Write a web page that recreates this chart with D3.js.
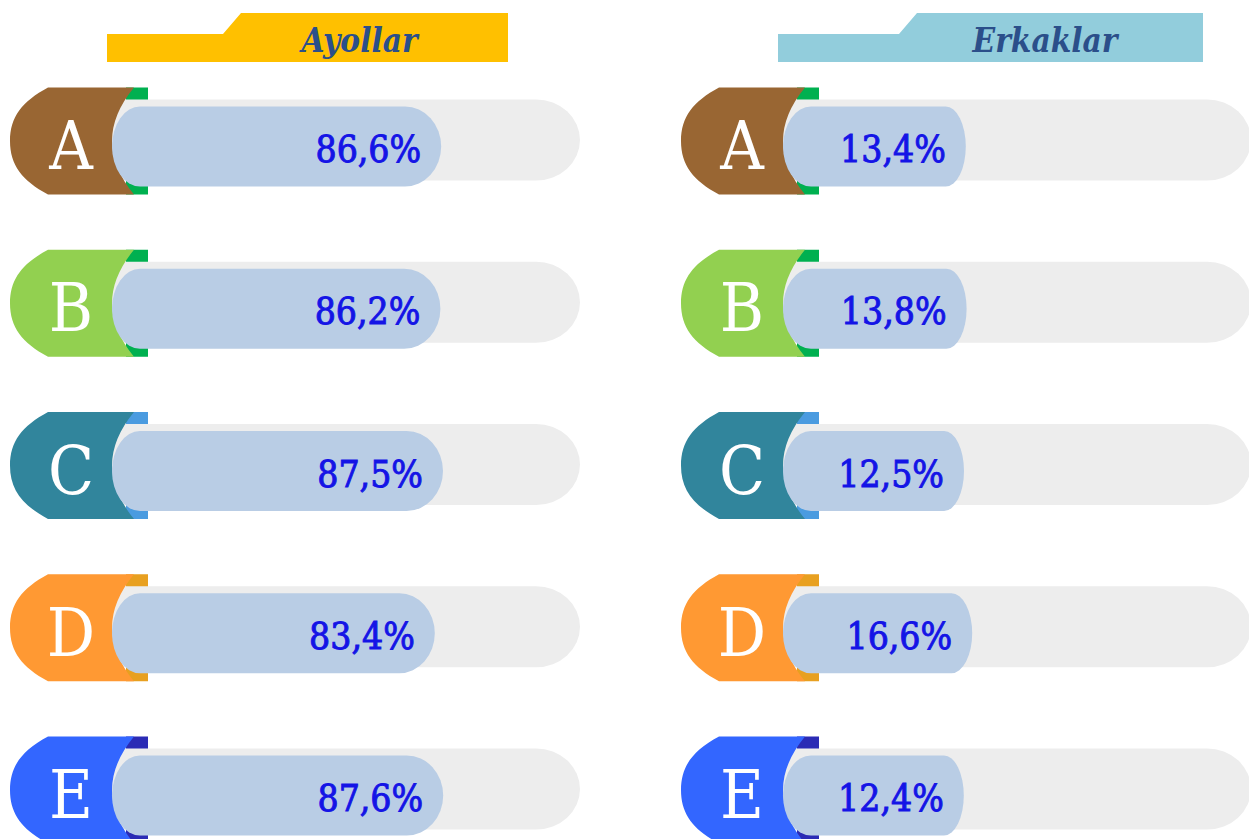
<!DOCTYPE html>
<html>
<head>
<meta charset="utf-8">
<script src="https://cdn.jsdelivr.net/npm/d3@7"></script>
<style>
  body { margin: 0; background: #fff; }
  svg { display: block; }
</style>
</head>
<body>
<div id="viz"></div>
<script>
const categories = ["A", "B", "C", "D", "E"];
const ayollar = [86.6, 86.2, 87.5, 83.4, 87.6];
const erkaklar = [13.4, 13.8, 12.5, 16.6, 12.4];
const panelTitles = ["Ayollar", "Erkaklar"];

const badgeColors = ["#996633", "#92D050", "#31859C", "#FF9933", "#3366FF"];
const accentColors = ["#00B050", "#00B050", "#4A9BE0", "#E8A020", "#2B2BB5"];
const bannerColors = ["#FFC000", "#92CDDC"];
const bannerEnds = [508, 532];

const W = 1249, H = 839;
const svg = d3.select("#viz").append("svg")
  .attr("width", W)
  .attr("height", H);

const fmt = d3.formatLocale({ decimal: ",", thousands: " ", grouping: [3], currency: ["", ""] }).format(".1f");

// row centres and bar length (bar keeps a minimum length so the label fits)
const y = d3.scalePoint().domain(categories).range([141, 790]);
const len = d3.scaleLinear().domain([0, 100]).range([156, 356]);
const panelX = d3.scalePoint().domain(panelTitles).range([0, 671]);

const badgeL = 10, badgeR = 148, badgeH = 107;
const trackStart = 100, trackEnd = 580, trackH = 81;
const barStart = 112, barH = 80;
const serif = "'DejaVu Serif Condensed', 'DejaVu Serif', serif";

function badgePath(cy) {
  const t = cy - badgeH / 2, b = cy + badgeH / 2;
  const xl = badgeL, xr = badgeR - 14;
  return `M${xl + 38},${t} L${xr},${t} Q${xr - 44},${cy} ${xr},${b} L${xl + 38},${b}
    C${xl + 12},${b - 14} ${xl},${cy + 24} ${xl},${cy}
    C${xl},${cy - 24} ${xl + 12},${t + 14} ${xl + 38},${t} Z`;
}

function pillPath(x0, x1, cy, h, rl, rr) {
  const t = cy - h / 2, b = cy + h / 2, ry = h / 2;
  return `M${x0 + rl},${t} L${x1 - rr},${t} A${rr},${ry} 0 0 1 ${x1 - rr},${b}
    L${x0 + rl},${b} A${rl},${ry} 0 0 1 ${x0 + rl},${t} Z`;
}

function drawPanel(title, values, pi) {
  const g = svg.append("g").attr("transform", `translate(${panelX(title)},0)`);

  // title banner
  const xb = 107, xs = 223 + pi * 5, xe = bannerEnds[pi];
  g.append("path")
    .attr("d", `M${xb},34 L${xs},34 L${xs + 18},13 L${xe},13 L${xe},62 L${xb},62 Z`)
    .attr("fill", bannerColors[pi]);
  g.append("text")
    .attr("x", (xs + xe) / 2 - 6)
    .attr("y", 52)
    .attr("text-anchor", "middle")
    .style("font-family", serif)
    .style("font-style", "italic")
    .style("font-weight", "bold")
    .style("font-size", "33px")
    .style("fill", "#2B4F8A")
    .text(title);

  const rows = g.selectAll("g.row")
    .data(categories.map((c, i) => ({ c, i, v: values[i] })))
    .enter()
    .append("g")
    .attr("class", "row");

  rows.append("rect")
    .attr("x", badgeR - 22)
    .attr("y", d => y(d.c) - badgeH / 2)
    .attr("width", 22)
    .attr("height", badgeH)
    .attr("fill", d => accentColors[d.i]);

  rows.append("path")
    .attr("d", d => pillPath(trackStart, trackEnd, y(d.c) - 1, trackH, 25, 44))
    .attr("fill", "#EDEDED");

  rows.append("path")
    .attr("d", d => badgePath(y(d.c)))
    .attr("fill", d => badgeColors[d.i]);

  rows.append("path")
    .attr("d", d => {
      const w = len(d.v);
      return pillPath(barStart, barStart + w, y(d.c) + 5.5, barH, 28, Math.min(40, w * 0.11));
    })
    .attr("fill", "#B9CDE5");

  rows.append("text")
    .attr("x", badgeL + 61)
    .attr("y", d => y(d.c) + 28)
    .attr("text-anchor", "middle")
    .style("font-family", serif)
    .style("font-size", "67px")
    .style("fill", "#fff")
    .text(d => d.c);

  rows.append("text")
    .attr("x", d => barStart + len(d.v) - 20)
    .attr("y", d => y(d.c) + 21)
    .attr("text-anchor", "end")
    .style("font-family", serif)
    .style("font-size", "37px")
    .style("fill", "#1414E6")
    .style("stroke", "#1414E6")
    .style("stroke-width", "0.9px")
    .text(d => fmt(d.v) + "%");
}

drawPanel(panelTitles[0], ayollar, 0);
drawPanel(panelTitles[1], erkaklar, 1);
</script>
</body>
</html>
